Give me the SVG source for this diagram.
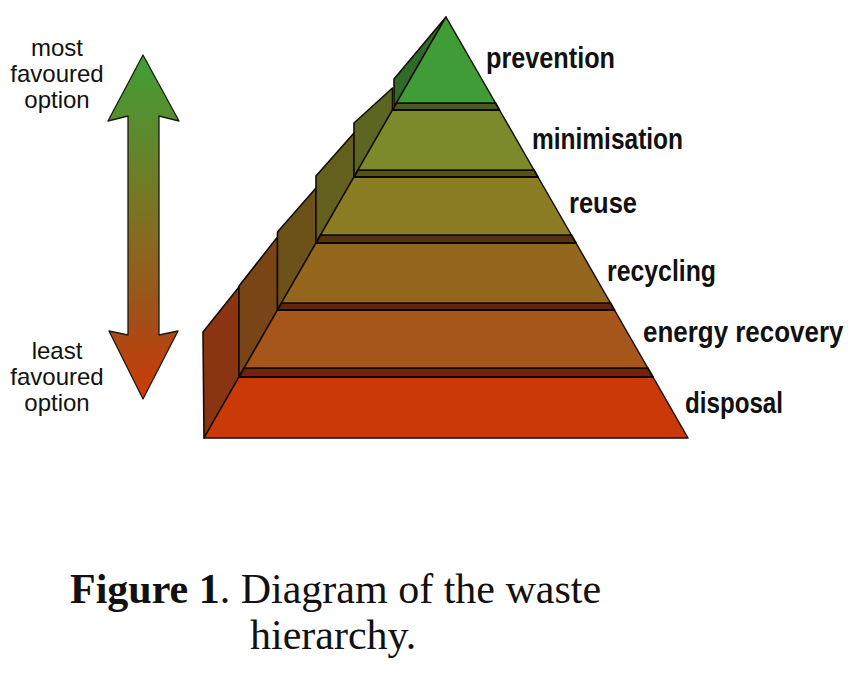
<svg xmlns="http://www.w3.org/2000/svg" width="864" height="674" viewBox="0 0 864 674">
  <style>
    .lbl { font-family: "Liberation Sans", Arial, sans-serif; font-weight: bold; font-size: 29px; fill: #111; }
    .side { font-family: "Liberation Sans", Arial, sans-serif; font-size: 24px; fill: #111; text-anchor: middle; }
    .cap { font-family: "Liberation Serif", "Times New Roman", serif; font-size: 42px; fill: #111; }
    .face { stroke: #140d06; stroke-width: 1.5; stroke-linejoin: round; }
    .ledge { stroke: #0e0804; stroke-width: 1.8; stroke-linejoin: round; }
    .panel { stroke: #140d06; stroke-width: 1.6; stroke-linejoin: round; }
  </style>
  <defs>
    <linearGradient id="arrowGrad" x1="0" y1="55" x2="0" y2="400" gradientUnits="userSpaceOnUse">
      <stop offset="0" stop-color="#3f9f36"/>
      <stop offset="0.45" stop-color="#7b7424"/>
      <stop offset="0.75" stop-color="#a0501a"/>
      <stop offset="1" stop-color="#cf3a08"/>
    </linearGradient>
  </defs>
  <rect width="864" height="674" fill="#ffffff"/>

  <g id="connectors">
    <g id="scale-arrow">
      <path d="M143,55 L179,121 L159,116 L159,335 L178,331 L143,399 L109,331 L128,335 L128,116 L108,121 Z" fill="url(#arrowGrad)" stroke="#1a1a10" stroke-width="1.3" stroke-linejoin="round"/>
    </g>
  </g>

  <g id="label-most">
    <text class="side" x="57" y="56">most</text>
    <text class="side" x="57" y="82">favoured</text>
    <text class="side" x="57" y="108">option</text>
  </g>
  <g id="label-least">
    <text class="side" x="57" y="359">least</text>
    <text class="side" x="57" y="385">favoured</text>
    <text class="side" x="57" y="411">option</text>
  </g>

  <g id="pyramid">
    <g id="side-panels">
      <polygon class="panel" points="204,438 203,332 239,287 239,377" fill="#8a3412"/>
      <polygon class="panel" points="239,377 239,286 277.5,237 277.5,310" fill="#7a4516"/>
      <polygon class="panel" points="277.5,310 277.5,232 316,188 316,243" fill="#6c5218"/>
      <polygon class="panel" points="316,243 316,176 354,133 354,177" fill="#63601e"/>
      <polygon class="panel" points="354,177 354,123 392.5,88 392.5,110" fill="#5c6622"/>
      <polygon class="panel" points="394,106 394,79 446,17 396.5,103" fill="#2f6a2a"/>
    </g>

    <g id="layer-disposal">
      <polygon class="face" points="239,377 653,377 688,438 204,438" fill="#ca3a08"/>
      <text class="lbl" x="685" y="413" textLength="98" lengthAdjust="spacingAndGlyphs">disposal</text>
    </g>
    <g id="layer-energy-recovery">
      <polygon class="ledge" points="244.2,368 647.8,368 653,377 239,377" fill="#72220e"/>
      <polygon class="face" points="277.5,310 614.5,310 647.8,368 244.2,368" fill="#a7561b"/>
      <text class="lbl" x="0" y="0" font-size="27.5" transform="translate(643,342) scale(0.895,1)">energy recovery</text>
    </g>
    <g id="layer-recycling">
      <polygon class="ledge" points="281.5,303 610.5,303 614.5,310 277.5,310" fill="#62240e"/>
      <polygon class="face" points="316,243 576,243 610.5,303 281.5,303" fill="#95661d"/>
      <text class="lbl" x="607" y="281" textLength="109" lengthAdjust="spacingAndGlyphs">recycling</text>
    </g>
    <g id="layer-reuse">
      <polygon class="ledge" points="320.6,235 571.4,235 576,243 316,243" fill="#563210"/>
      <polygon class="face" points="354,177 538,177 571.4,235 320.6,235" fill="#8b7d23"/>
      <text class="lbl" x="569" y="213" textLength="68" lengthAdjust="spacingAndGlyphs">reuse</text>
    </g>
    <g id="layer-minimisation">
      <polygon class="ledge" points="358,170 534,170 538,177 354,177" fill="#565218"/>
      <polygon class="face" points="392.5,110 499.5,110 534,170 358,170" fill="#7d8a2b"/>
      <text class="lbl" x="532" y="149" textLength="151" lengthAdjust="spacingAndGlyphs">minimisation</text>
    </g>
    <g id="layer-prevention">
      <polygon class="ledge" points="396.5,103 495.5,103 499.5,110 392.5,110" fill="#4a5a1c"/>
      <polygon class="face" points="446,17 495.5,103 396.5,103" fill="#3f9c37"/>
      <text class="lbl" x="486" y="68" textLength="129" lengthAdjust="spacingAndGlyphs">prevention</text>
    </g>
  </g>

  <g id="caption">
    <text class="cap" x="70" y="603"><tspan font-weight="bold">Figure 1</tspan>. Diagram of the waste</text>
    <text class="cap" x="250" y="649">hierarchy.</text>
  </g>
</svg>
